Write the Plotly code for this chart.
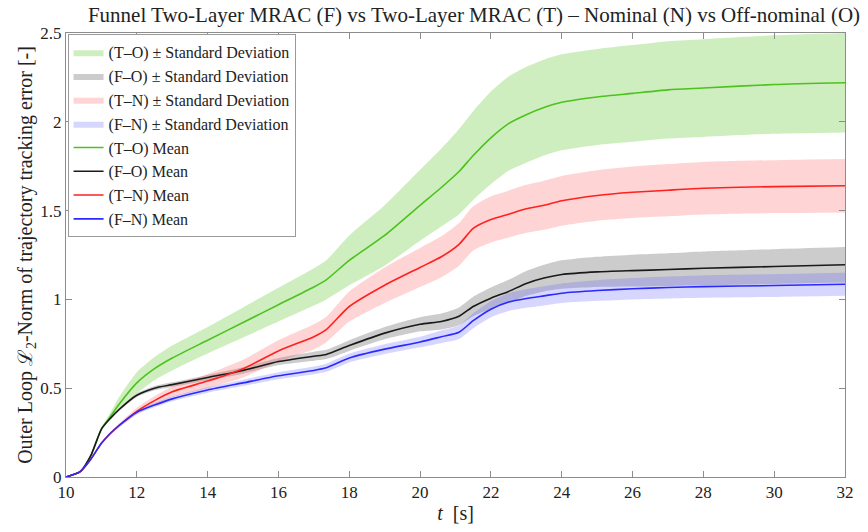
import plotly.graph_objects as go

t = [10, 10.4, 10.7, 11, 11.25, 11.5, 12, 12.5, 13, 14, 15, 16, 17, 17.35, 18, 19, 20,
     20.6, 21.1, 21.5, 22, 22.5, 23, 23.5, 24, 25, 26, 27, 28, 30, 32]

to_mean = [0, 0.03, 0.12, 0.27, 0.34, 0.41, 0.53, 0.61, 0.67, 0.77, 0.87, 0.97, 1.07, 1.11, 1.22,
           1.36, 1.53, 1.63, 1.72, 1.81, 1.91, 1.99, 2.04, 2.08, 2.11, 2.14, 2.16, 2.18, 2.19, 2.21, 2.22]
to_std = [0, 0.002, 0.005, 0.01, 0.02, 0.04, 0.06, 0.065, 0.07, 0.075, 0.085, 0.095, 0.105, 0.11, 0.14,
          0.17, 0.2, 0.22, 0.24, 0.25, 0.26, 0.265, 0.27, 0.27, 0.27, 0.27, 0.272, 0.274, 0.275, 0.277, 0.28]

fo_mean = [0, 0.03, 0.12, 0.27, 0.33, 0.38, 0.46, 0.5, 0.52, 0.56, 0.6, 0.65, 0.68, 0.69, 0.74,
           0.81, 0.86, 0.876, 0.905, 0.96, 1.007, 1.045, 1.09, 1.12, 1.14, 1.155, 1.162, 1.168, 1.175, 1.185, 1.195]
fo_std = [0, 0.001, 0.003, 0.005, 0.007, 0.008, 0.01, 0.012, 0.013, 0.015, 0.018, 0.02, 0.025, 0.026, 0.03,
          0.035, 0.04, 0.045, 0.05, 0.055, 0.06, 0.065, 0.07, 0.075, 0.08, 0.085, 0.09, 0.092, 0.095, 0.098, 0.1]

tn_mean = [0, 0.03, 0.1, 0.19, 0.245, 0.29, 0.37, 0.43, 0.48, 0.54, 0.61, 0.71, 0.79, 0.83, 0.96,
           1.08, 1.18, 1.24, 1.31, 1.40, 1.45, 1.48, 1.51, 1.53, 1.555, 1.585, 1.603, 1.615, 1.626, 1.635, 1.64]
tn_std = [0, 0.001, 0.003, 0.005, 0.008, 0.012, 0.02, 0.025, 0.03, 0.04, 0.05, 0.06, 0.07, 0.072, 0.085,
          0.1, 0.11, 0.115, 0.12, 0.125, 0.13, 0.132, 0.135, 0.138, 0.14, 0.142, 0.145, 0.147, 0.148, 0.149, 0.15]

fn_mean = [0, 0.03, 0.1, 0.19, 0.245, 0.29, 0.365, 0.405, 0.44, 0.49, 0.53, 0.57, 0.6, 0.615, 0.67,
           0.72, 0.76, 0.79, 0.815, 0.88, 0.945, 0.985, 1.005, 1.02, 1.035, 1.05, 1.06, 1.067, 1.072, 1.078, 1.085]
fn_std = [0, 0.001, 0.003, 0.005, 0.007, 0.008, 0.01, 0.012, 0.013, 0.015, 0.018, 0.02, 0.022, 0.023, 0.025,
          0.028, 0.03, 0.035, 0.038, 0.042, 0.045, 0.05, 0.052, 0.054, 0.055, 0.058, 0.06, 0.062, 0.063, 0.064, 0.065]

series = [
    ("(T\u2013O)", to_mean, to_std, "#4cc21c", "rgba(95,200,45,0.30)"),
    ("(F\u2013O)", fo_mean, fo_std, "#1a1a1a", "rgba(120,120,120,0.38)"),
    ("(T\u2013N)", tn_mean, tn_std, "#ff2020", "rgba(255,90,90,0.26)"),
    ("(F\u2013N)", fn_mean, fn_std, "#2a2aff", "rgba(90,90,255,0.25)"),
]

FONT = "Liberation Serif"
fig = go.Figure()

for name, m, s, lc, fc in series:
    lo = [a - b for a, b in zip(m, s)]
    hi = [a + b for a, b in zip(m, s)]
    fig.add_trace(go.Scatter(x=t, y=lo, mode="lines", line=dict(width=0, shape="spline", smoothing=0.6),
                             showlegend=False, hoverinfo="skip"))
    fig.add_trace(go.Scatter(x=t, y=hi, mode="lines", line=dict(width=0, shape="spline", smoothing=0.6),
                             fill="tonexty", fillcolor=fc,
                             name=name + " \u00b1 Standard Deviation"))

for name, m, s, lc, fc in series:
    fig.add_trace(go.Scatter(x=t, y=m, mode="lines", line=dict(color=lc, width=1.6, shape="spline", smoothing=0.6),
                             name=name + " Mean"))

axis_common = dict(showline=True, linecolor="#8c8c8c", linewidth=1, mirror="ticks",
                   ticks="inside", ticklen=6, tickcolor="#8c8c8c", showgrid=False, zeroline=False,
                   tickfont=dict(family=FONT, size=17, color="#222"))

fig.update_layout(
    width=868, height=532,
    paper_bgcolor="white", plot_bgcolor="white",
    margin=dict(l=66, r=23, t=33, b=52),
    font=dict(family=FONT, color="#222"),
    title=dict(text="Funnel Two-Layer MRAC (F) vs Two-Layer MRAC (T) \u2013 Nominal (N) vs Off-nominal (O)",
               x=474 / 868, xanchor="center", y=0.972, yanchor="middle",
               font=dict(family=FONT, size=21, color="#222")),
    xaxis=dict(range=[10, 32], tickvals=list(range(10, 33, 2)),
               title=dict(text="<i>t</i>  [s]", font=dict(family=FONT, size=20), standoff=4),
               **axis_common),
    yaxis=dict(range=[0, 2.5], tickvals=[0, 0.5, 1, 1.5, 2, 2.5],
               ticktext=["0", "0.5", "1", "1.5", "2", "2.5"],
               title=dict(text="Outer Loop \u2112<sub>2</sub>-Norm of trajectory tracking error [-]",
                          font=dict(family=FONT, size=20), standoff=2),
               **axis_common),
    legend=dict(x=0.002, y=0.997, xanchor="left", yanchor="top", traceorder="normal",
                bgcolor="white", bordercolor="#9a9a9a", borderwidth=1,
                font=dict(family=FONT, size=16, color="#222"),
                tracegroupgap=0, itemwidth=30),
)

fig.write_html("out.html")
